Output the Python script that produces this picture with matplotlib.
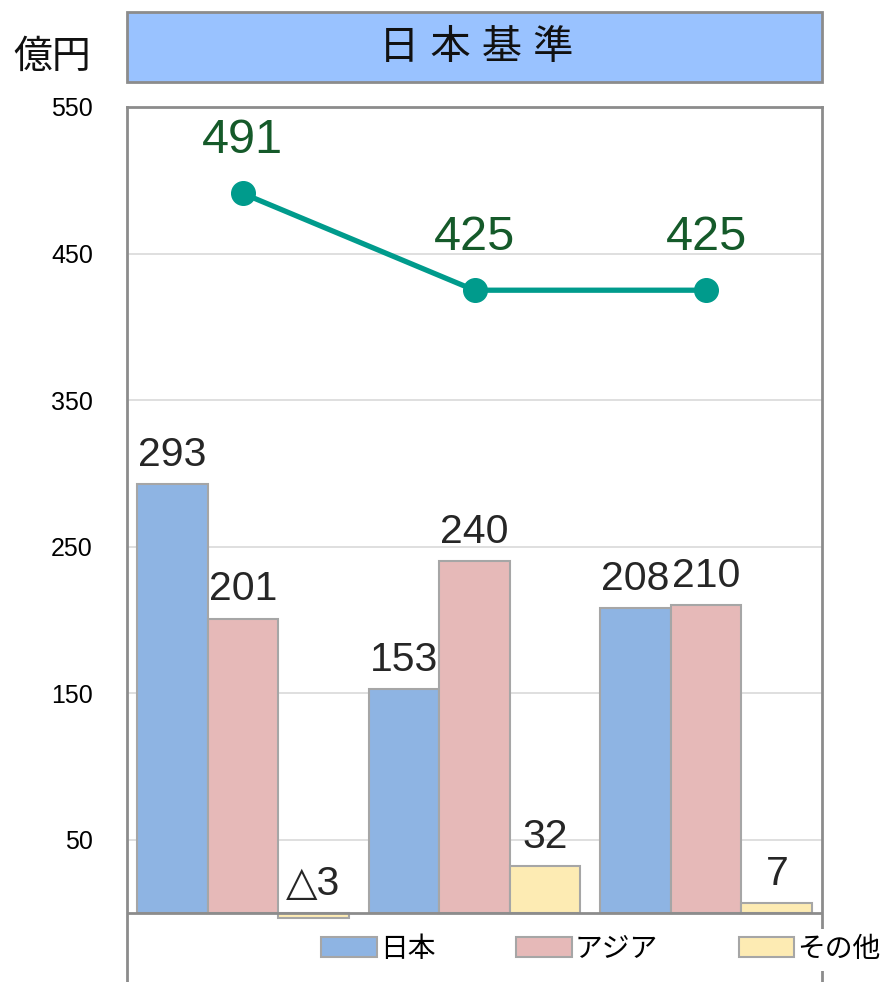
import numpy as np
import matplotlib
matplotlib.use('Agg')
import matplotlib.pyplot as plt
from matplotlib.patches import Rectangle

plt.rcParams['font.family'] = ['Liberation Sans', 'Noto Sans CJK JP', 'DejaVu Sans']

# data
groups = ['1', '2', '3']
series_names = ['日本', 'アジア', 'その他']
japan = [293, 153, 208]
asia = [201, 240, 210]
other = [-3, 32, 7]
total = [491, 425, 425]
yticks = [50, 150, 250, 350, 450, 550]

colors = ['#8eb4e3', '#e6b9b8', '#fdebb3']
edge = '#a6a6a6'
spine_col = '#8c8c8c'

fig = plt.figure(figsize=(8.88, 9.82), dpi=100)
ax = fig.add_axes([127/888, 0, (822-127)/888, 1 - 107/982])

x = np.arange(len(groups))
w = 0.305
for i, (vals, col) in enumerate(zip([japan, asia, other], colors)):
    pos = x + (i - 1) * w
    ax.bar(pos, vals, width=w, color=col, edgecolor=edge, linewidth=1.5,
           label=series_names[i], zorder=3)
    for p, v in zip(pos, vals):
        txt = '△' + str(abs(v)) if v < 0 else str(v)
        ax.annotate(txt, (p, max(v, 0)), xytext=(0, 13), textcoords='offset points',
                    ha='center', va='baseline', fontsize=29.5, color='#262626',
                    family=['Liberation Sans', 'DejaVu Sans'], zorder=4)

ax.plot(x, total, color='#009b8c', linewidth=3.8, marker='o', markersize=17, zorder=5)
for p, v in zip(x, total):
    ax.annotate(str(v), (p, v), xytext=(0, 29), textcoords='offset points',
                ha='center', va='baseline', fontsize=35, color='#155a2a', zorder=6)

ax.set_xlim(-0.5, 2.5)
ax.set_ylim(-47, 550)
ax.set_yticks(yticks)
ax.set_yticklabels([str(t) for t in yticks], fontsize=18)
ax.tick_params(axis='y', length=0, pad=24.5)
ax.set_xticks([])
for t in yticks[:-1]:
    ax.axhline(t, color='#d9d9d9', linewidth=1.2, zorder=1)
ax.axhline(0, color=spine_col, linewidth=2, zorder=4)

ax.spines['bottom'].set_visible(False)
for s in ['left', 'top', 'right']:
    ax.spines[s].set_color(spine_col)
    ax.spines[s].set_linewidth(2)

leg = ax.legend(loc='center', bbox_to_anchor=(601/888, 1 - 950/982),
                bbox_transform=fig.transFigure, ncol=3, fontsize=20,
                handlelength=2.0, handleheight=0.72, handletextpad=0.12,
                columnspacing=2.9, frameon=True, facecolor='white',
                edgecolor='none', framealpha=1, borderpad=0.3)
leg.set_zorder(10)

# title box
fig.patches.append(Rectangle((127/888, 1 - 82/982), (822-127)/888, 70/982,
                             transform=fig.transFigure, facecolor='#99c2ff',
                             edgecolor=spine_col, linewidth=2))
fig.text(476/888, 1 - 48/982, '日 本 基 準', ha='center', va='center', fontsize=29,
         color='#111111')
fig.text(52/888, 1 - 58/982, '億円', ha='center', va='center', fontsize=28,
         color='#111111')

fig.savefig('out.png', dpi=100)
